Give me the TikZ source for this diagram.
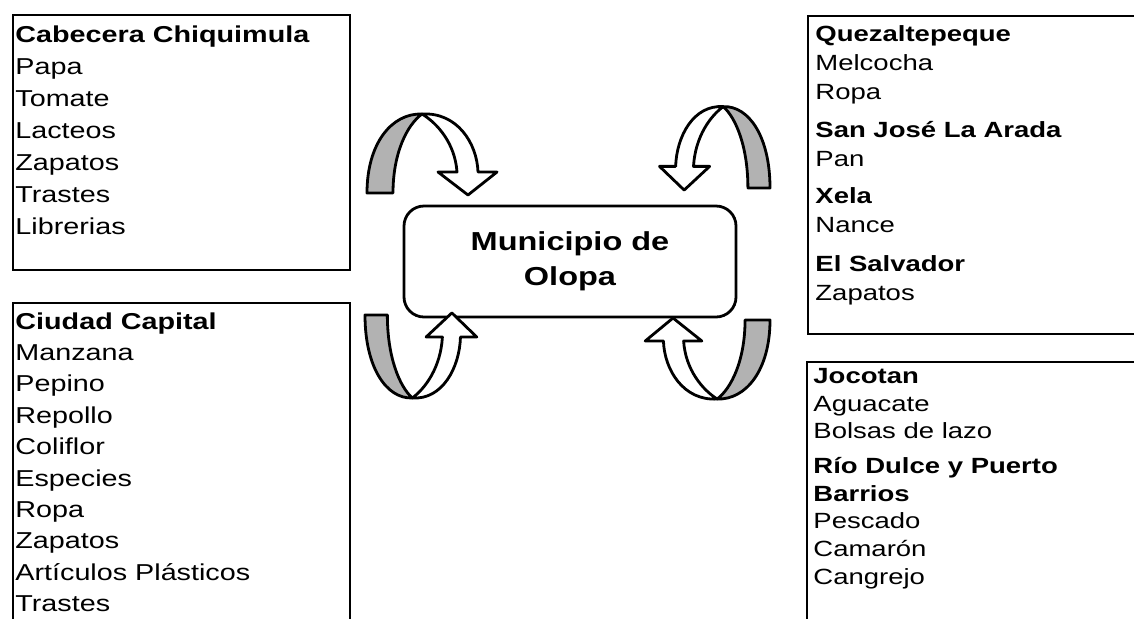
\documentclass[tikz,border=0pt]{standalone}
\usepackage{fontspec}
\setmainfont{Liberation Sans}[FakeStretch=1.25]
\usepackage{tikz}

\tikzset{
    listbox/.style={draw, line width=0.8pt, anchor=north west, inner sep=0pt},
    listtext/.style={anchor=north west, inner sep=0pt, align=left},
    hub/.style={draw, line width=1.4pt, rounded corners=10pt, align=center,
        font=\bfseries\fontsize{13}{17.5}\selectfont},
    ribbon/.style={draw, line width=1.4pt, line join=round},
    pics/uturn/.style={code={
        \path[ribbon, fill=black!30] (0,0) .. controls (0,50) and (25,80) .. (55,79)
            .. controls (40,68) and (26,40) .. (26,0) -- cycle;
        \path[ribbon, fill=white] (55,79) .. controls (90,81) and (110,50) .. (111,21)
            -- (130,21) -- (101,-2) -- (71,21) -- (90,21)
            .. controls (88,50) and (70,70) .. (55,79) -- cycle;
    }}
}

\begin{document}
\begin{tikzpicture}[x=0.5pt, y=-0.5pt]
        \useasboundingbox (0,0) rectangle (1134,618);
        \clip (0,0) rectangle (1134,618);

        \node[listbox, minimum width=168.5pt, minimum height=127.5pt] (chiqbox) at (12,14) {};
        \node[listbox, minimum width=168.5pt, minimum height=169pt] (capbox) at (12,302) {};
        \node[listbox, minimum width=171.5pt, minimum height=159pt] (quezbox) at (807,15) {};
        \node[listbox, minimum width=172pt, minimum height=139.5pt] (jocobox) at (806,361) {};

        \node[listtext, font=\fontsize{11.5}{16}\selectfont] (chiq) at ([shift={(3,11)}]chiqbox.north west)
            {\textbf{Cabecera Chiquimula}\\Papa\\Tomate\\Lacteos\\Zapatos\\Trastes\\Librerias};
        \node[listtext, font=\fontsize{11.5}{15.7}\selectfont] (capital) at ([shift={(3,10)}]capbox.north west)
            {\textbf{Ciudad Capital}\\Manzana\\Pepino\\Repollo\\Coliflor\\Especies\\Ropa\\Zapatos\\Artículos Plásticos\\Trastes};
        \node[listtext, font=\fontsize{11}{14.5}\selectfont] (quez) at ([shift={(8,10)}]quezbox.north west)
            {\textbf{Quezaltepeque}\\Melcocha\\Ropa\\[4.5pt]\textbf{San José La Arada}\\Pan\\[4pt]\textbf{Xela}\\Nance\\[5pt]\textbf{El Salvador}\\Zapatos};
        \node[listtext, font=\fontsize{11}{13.8}\selectfont] (joco) at ([shift={(7,7)}]jocobox.north west)
            {\textbf{Jocotan}\\Aguacate\\Bolsas de lazo\\[3.7pt]\textbf{Río Dulce y Puerto}\\\textbf{Barrios}\\Pescado\\Camarón\\Cangrejo};

        \node[hub, minimum width=166pt, minimum height=55.5pt] (olopa) at (570,261.5) {Municipio de\\Olopa};

        \pic[shift={(367,193)}, yscale=-1] {uturn};
        \pic[shift={(770,188)}, xscale=-0.85, yscale=-1.03] {uturn};
        \pic[shift={(365,315)}, xscale=0.86, yscale=1.05] {uturn};
        \pic[shift={(770,320)}, xscale=-0.96] {uturn};
    \end{tikzpicture}
\end{document}
